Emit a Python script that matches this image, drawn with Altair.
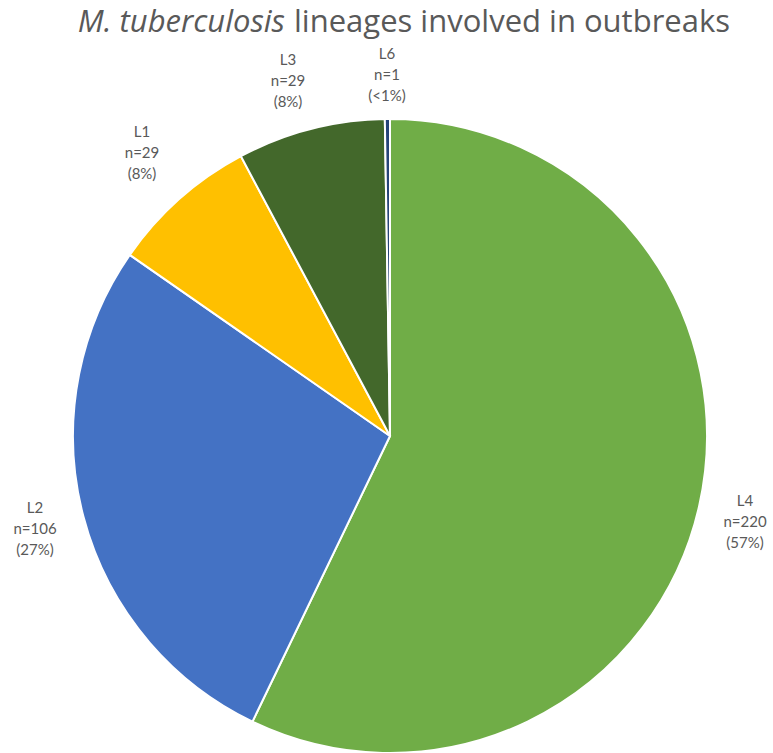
import altair as alt
import pandas as pd

# Outbreak counts per M. tuberculosis lineage, in pie order (clockwise from 12 o'clock)
lineages = ["L4", "L2", "L1", "L3", "L6"]
counts = [220, 106, 29, 29, 1]
shares = ["57%", "27%", "8%", "8%", "<1%"]
colors = ["#70AD47", "#4472C4", "#FFC000", "#43682B", "#264478"]

df = pd.DataFrame({
    "lineage": lineages,
    "n": counts,
    "share": shares,
    "order": list(range(len(lineages))),
})
df["label"] = [f"{l}\nn={n}\n({s})" for l, n, s in zip(lineages, counts, shares)]

W, H = 773, 753
CX, CY, R = 390, 436, 317
FONT = "Lato"
TITLE_FONT = "Open Sans"
TEXT = "#595959"

# Label anchors (centre of the first line of each three-line block)
label_pos = {
    "L4": (745, 501),
    "L2": (35, 508),
    "L1": (142, 132),
    "L3": (288, 60),
    "L6": (387, 54),
}

base = alt.Chart(df)

pie = base.mark_arc(radius=R, stroke="white", strokeWidth=2).encode(
    theta=alt.Theta("n:Q", stack=True),
    order=alt.Order("order:Q", sort="ascending"),
    color=alt.Color("lineage:N", scale=alt.Scale(domain=lineages, range=colors), legend=None),
    x=alt.value(CX),
    y=alt.value(CY),
)

labels = [
    base.transform_filter(alt.datum.lineage == name)
    .mark_text(font=FONT, fontSize=15, color=TEXT, lineBreak="\n", lineHeight=21,
               align="center", baseline="middle")
    .encode(text="label:N", x=alt.value(px), y=alt.value(py))
    for name, (px, py) in label_pos.items()
]

title_df = pd.DataFrame({"part": ["M. tuberculosis", "lineages involved in outbreaks"]})
title_italic = alt.Chart(title_df).transform_filter(alt.datum.part == "M. tuberculosis").mark_text(
    font=TITLE_FONT, fontSize=31, fontStyle="italic", color=TEXT, align="right", baseline="alphabetic"
).encode(text="part:N", x=alt.value(285), y=alt.value(32))
title_plain = alt.Chart(title_df).transform_filter(alt.datum.part != "M. tuberculosis").mark_text(
    font=TITLE_FONT, fontSize=31, color=TEXT, align="left", baseline="alphabetic"
).encode(text="part:N", x=alt.value(294), y=alt.value(32))

chart = alt.layer(pie, *labels, title_italic, title_plain).properties(
    width=W, height=H, autosize=alt.AutoSizeParams(type="none"), padding=0
).configure_view(stroke=None)

chart.save("out.html", embed_options={"renderer": "svg", "actions": False})
